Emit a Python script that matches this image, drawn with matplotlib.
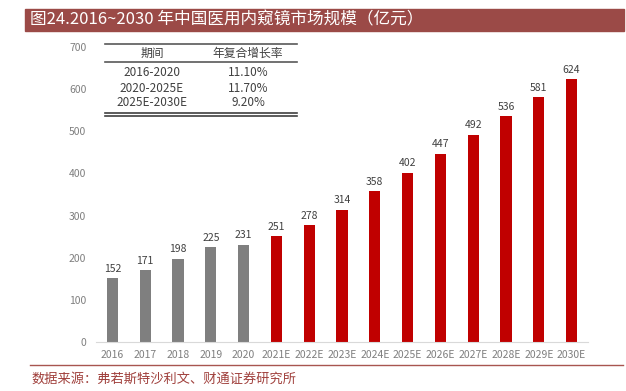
import matplotlib
matplotlib.use("Agg")
import matplotlib.pyplot as plt
from matplotlib.patches import Rectangle
from matplotlib.lines import Line2D

plt.rcParams['font.family'] = ['Noto Sans CJK SC', 'DejaVu Sans']

years = ['2016', '2017', '2018', '2019', '2020', '2021E', '2022E', '2023E',
         '2024E', '2025E', '2026E', '2027E', '2028E', '2029E', '2030E']
values = [152, 171, 198, 225, 231, 251, 278, 314, 358, 402, 447, 492, 536, 581, 624]
n_actual = 5
yticks = [0, 100, 200, 300, 400, 500, 600, 700]

table_header = ['期间', '年复合增长率']
table_periods = ['2016-2020', '2020-2025E', '2025E-2030E']
table_cagr = ['11.10%', '11.70%', '9.20%']

title = '图24.2016~2030 年中国医用内窥镜市场规模（亿元）'
source = '数据来源：弗若斯特沙利文、财通证券研究所'

W, H = 626, 391
fig = plt.figure(figsize=(W / 100, H / 100), dpi=100)

def fx(px):
    return px / W

def fy(py):
    return 1 - py / H

ax = fig.add_axes([fx(96), fy(342), fx(588) - fx(96), fy(47) - fy(342)])
colors = ['#7F7F7F' if i < n_actual else '#C00000' for i in range(len(years))]
x = list(range(len(years)))
bars = ax.bar(x, values, width=0.34, color=colors)
for xi, v in zip(x, values):
    ax.text(xi, v + 10, str(v), ha='center', va='bottom', fontsize=7.5, color='#404040')

ax.set_xlim(-0.5, len(years) - 0.5)
ax.set_ylim(0, 700)
ax.set_yticks(yticks)
ax.set_xticks(x)
ax.set_xticklabels(years)
for s in ['top', 'right', 'left']:
    ax.spines[s].set_visible(False)
ax.spines['bottom'].set_color('#D9D9D9')
ax.tick_params(axis='both', length=0, labelsize=7.5, colors='#7F7F7F', pad=6)
ax.tick_params(axis='y', pad=7)

# title bar
fig.patches.append(Rectangle((fx(25), fy(31)), fx(624) - fx(25), fy(9) - fy(31),
                             transform=fig.transFigure, color='#9B4A47', zorder=0))
fig.text(fx(30), fy(20), title, color='white', fontsize=12, va='center', ha='left')

# bottom line and source
fig.add_artist(Line2D([fx(30), fx(623)], [fy(365), fy(365)], transform=fig.transFigure,
                      color='#A85550', lw=1))
fig.text(fx(31), fy(379), source, color='#A0403C', fontsize=9.5, va='center', ha='left')

# table
tl, tr = fx(105), fx(297)
def hline(py, lw=1.0, c='#404040'):
    fig.add_artist(Line2D([tl, tr], [fy(py), fy(py)], transform=fig.transFigure, color=c, lw=lw))
hline(44, 1.2, '#595959')
hline(62, 1.2, '#595959')
hline(113, 1.2, '#404040')
hline(116, 1.2, '#404040')
c1, c2 = fx(152), fx(248)
fs = 8.5
fig.text(c1, fy(53), table_header[0], ha='center', va='center', fontsize=fs, color='#404040')
fig.text(c2, fy(53), table_header[1], ha='center', va='center', fontsize=fs, color='#404040')
for i, (p, c) in enumerate(zip(table_periods, table_cagr)):
    yy = fy(73 + 15 * i)
    fig.text(c1, yy, p, ha='center', va='center', fontsize=fs, color='#404040')
    fig.text(c2, yy, c, ha='center', va='center', fontsize=fs, color='#404040')

fig.savefig('out.png', dpi=100)
